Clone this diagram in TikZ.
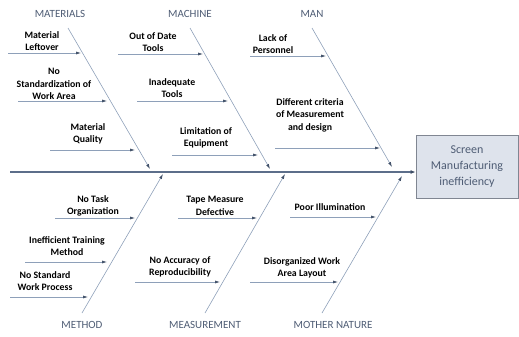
\documentclass[tikz,border=0pt]{standalone}
\usepackage{fontspec}
\setmainfont{Carlito}
\definecolor{bonegray}{RGB}{142, 160, 185}
\definecolor{tipblue}{RGB}{62, 78, 102}
\definecolor{spineblue}{RGB}{92, 110, 138}
\definecolor{catgray}{RGB}{78, 92, 116}
\definecolor{boxfill}{RGB}{222, 227, 236}
\definecolor{boxdraw}{RGB}{128, 134, 146}
\usepackage{tikz}
\usetikzlibrary{arrows.meta, positioning, calc}

\begin{document}
\begin{tikzpicture}[x=1pt, y=-1pt,
    cause/.style={font=\fontsize{9.8}{12.5}\selectfont\bfseries, align=center, inner sep=0pt},
    category/.style={font=\fontsize{11}{13}\selectfont, text=catgray, inner sep=0pt},
    bone/.style={draw=bonegray, line width=0.6pt, -{Latex[length=5pt, width=3pt, color=tipblue]}},
    twig/.style={draw=bonegray, line width=0.6pt, -{Latex[length=5pt, width=3pt, color=tipblue]}}]
  \useasboundingbox (0,0) rectangle (519,337);

  % effect box and spine
  \node[draw=boxdraw, fill=boxfill, line width=0.8pt, minimum width=102pt, minimum height=63pt,
        text=catgray, align=center, font=\fontsize{12}{16}\selectfont] (effect) at (467,166.5)
        {Screen\\Manufacturing\\inefficiency};
  \coordinate (tail) at (10,172);
  \draw[draw=spineblue, line width=1.3pt, -{Latex[length=5pt, width=4pt, color=tipblue]}] (tail) -- (effect.west |- tail);

  % categories
  \node[category] (materials) at (60,14) {MATERIALS};
  \node[category] (machine) at (190,14) {MACHINE};
  \node[category] (man) at (312,14) {MAN};
  \node[category] (method) at (82,325) {METHOD};
  \node[category] (measurement) at (205,325) {MEASUREMENT};
  \node[category] (nature) at (333,325) {MOTHER NATURE};

  % main bones
  \coordinate (matA) at (68,28);  \coordinate (matB) at (150,169);
  \coordinate (macA) at (190,28); \coordinate (macB) at (270,169);
  \coordinate (manA) at (312,28); \coordinate (manB) at (392,167);
  \coordinate (metA) at (82,313);  \coordinate (metB) at (163,174);
  \coordinate (meaA) at (205,313); \coordinate (meaB) at (285,174);
  \coordinate (motA) at (322,313); \coordinate (motB) at (402,176);
  \foreach \b in {mat, mac, man, met, mea, mot}
    \draw[bone] (\b A) -- (\b B);

  % causes: label, arrow start, arrow end
  \foreach \n/\lx/\ly/\txt/\sx/\ex/\ay in {
      leftover/42/41/{Material\\Leftover}/8/81/53,
      standard/54/84/{No\\Standardization of\\Work Area}/18/107/101,
      quality/88/134/{Material\\Quality}/50/135/150,
      outdate/153/42/{Out of Date\\Tools}/118/203/54,
      inadequate/172/88/{Inadequate\\Tools}/137/228/101,
      limitation/206/138/{Limitation of\\Equipment}/172/258/155,
      personnel/273/44/{Lack of\\Personnel}/250/326/56,
      criteria/310/115/{Different criteria\\of Measurement\\and design}/275/380/148,
      task/93/206/{No Task\\Organization}/55/135/218,
      training/67/246/{Inefficient Training\\Method}/25/107/262,
      process/45/281/{No Standard\\Work Process}/10/88/297,
      tape/215/206/{Tape Measure\\Defective}/178/257/218,
      accuracy/180/267/{No Accuracy of\\Reproducibility}/135/220/282,
      illumination/330/207/{Poor Illumination}/290/376/217,
      layout/302/268/{Disorganized Work\\Area Layout}/250/338/282} {
    \node[cause] (\n) at (\lx,\ly) {\txt};
    \coordinate (\n-s) at (\sx,\ay);
    \coordinate (\n-e) at (\ex,\ay);
    \draw[twig] (\n-s) -- (\n-e);
  }
\end{tikzpicture}
\end{document}
